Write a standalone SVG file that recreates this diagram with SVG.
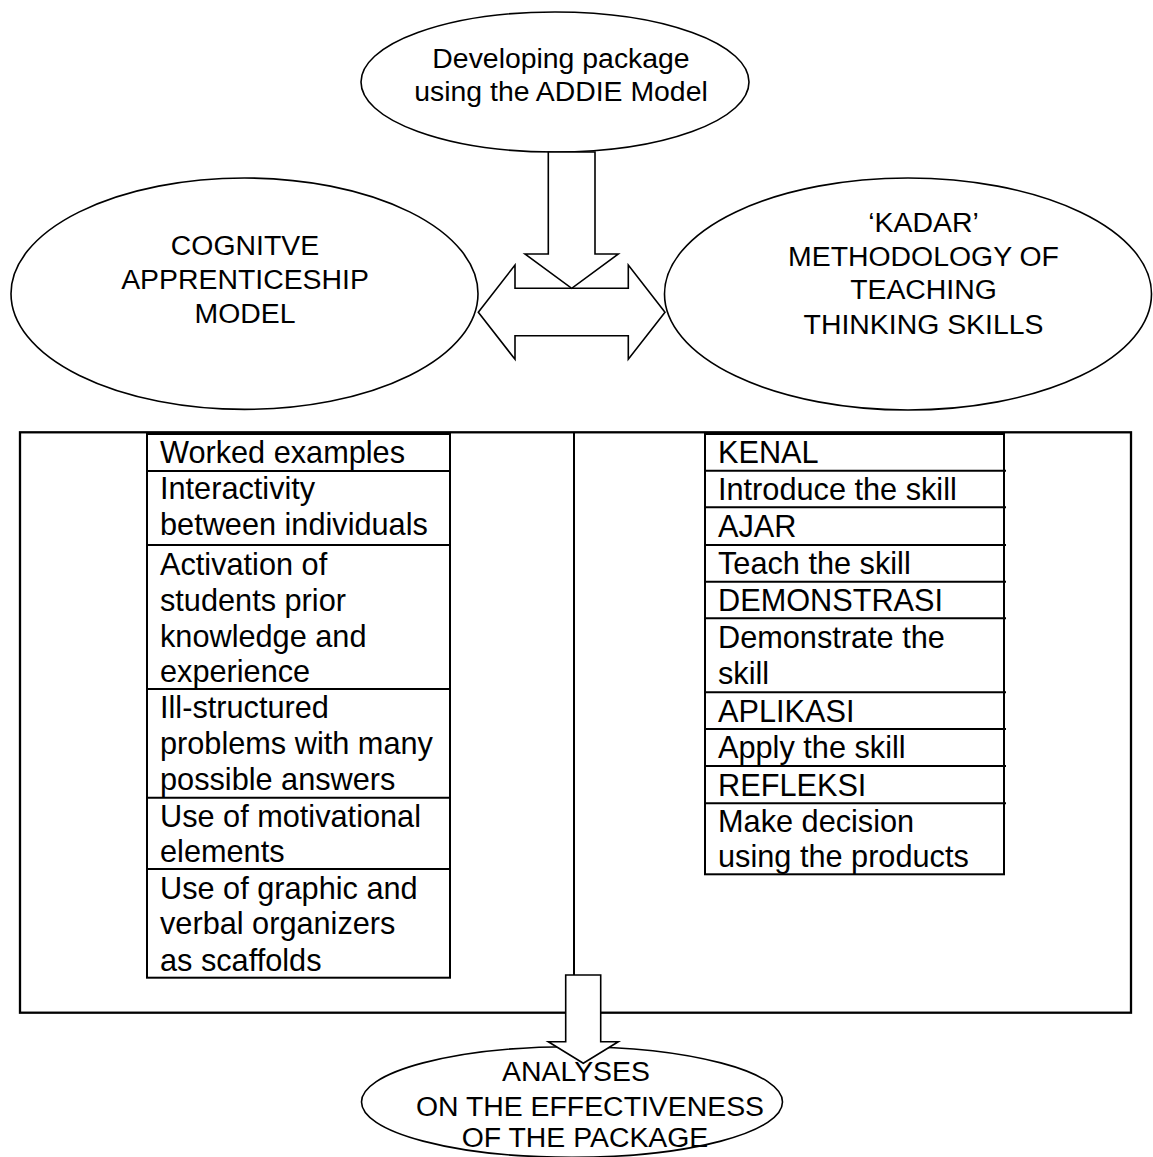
<svg xmlns="http://www.w3.org/2000/svg" width="1153" height="1157" viewBox="0 0 1153 1157">
<style>
  text { font-family: "Liberation Sans", Arial, sans-serif; fill: #000; }
  .el { fill: #fff; stroke: #000; stroke-width: 1.6; }
  .et { font-size: 28.4px; text-anchor: middle; }
  .bt { font-size: 30.7px; }
  .box { fill: #fff; stroke: #000; stroke-width: 2; }
  .sep { stroke: #000; stroke-width: 2; fill: none; }
  .frame { fill: none; stroke: #000; stroke-width: 2.3; }
  .arrow { fill: #fff; stroke: #000; stroke-width: 1.6; stroke-linejoin: miter; }
</style>
<rect width="1153" height="1157" fill="#fff"/>

<g id="frame">
  <rect class="frame" x="20" y="432.3" width="1111" height="580.4"/>
  <line class="sep" x1="574" y1="432.3" x2="574" y2="975"/>
</g>

<g id="node-cognitive">
  <ellipse class="el" cx="244.5" cy="293.7" rx="233.5" ry="115.7"/>
  <text class="et" x="245" y="255">COGNITVE</text>
  <text class="et" x="245" y="288.5">APPRENTICESHIP</text>
  <text class="et" x="245" y="323">MODEL</text>
</g>

<g id="node-kadar">
  <ellipse class="el" cx="908" cy="294" rx="243.5" ry="116"/>
  <text class="et" x="923.5" y="231.7">‘KADAR’</text>
  <text class="et" x="923.5" y="266">METHODOLOGY OF</text>
  <text class="et" x="923.5" y="298.5">TEACHING</text>
  <text class="et" x="923.5" y="334">THINKING SKILLS</text>
</g>

<g id="node-addie">
  <ellipse class="el" cx="555" cy="82" rx="194" ry="70"/>
  <text class="et" x="561" y="68">Developing package</text>
  <text class="et" x="561" y="101">using the ADDIE Model</text>
</g>

<g id="node-cognitive-list">
  <rect class="box" x="147" y="434" width="303" height="543.7"/>
  <line class="sep" x1="146" y1="471" x2="450" y2="471"/>
  <line class="sep" x1="146" y1="545" x2="450" y2="545"/>
  <line class="sep" x1="146" y1="689" x2="450" y2="689"/>
  <line class="sep" x1="146" y1="797.7" x2="450" y2="797.7"/>
  <line class="sep" x1="146" y1="869" x2="450" y2="869"/>
  <text class="bt" x="160" y="463.3">Worked examples</text>
  <text class="bt" x="160" y="499">Interactivity</text>
  <text class="bt" x="160" y="534.5">between individuals</text>
  <text class="bt" x="160" y="575">Activation of</text>
  <text class="bt" x="160" y="611">students prior</text>
  <text class="bt" x="160" y="646.5">knowledge and</text>
  <text class="bt" x="160" y="681.5">experience</text>
  <text class="bt" x="160" y="718.3">Ill-structured</text>
  <text class="bt" x="160" y="754">problems with many</text>
  <text class="bt" x="160" y="789.5">possible answers</text>
  <text class="bt" x="160" y="826.7">Use of motivational</text>
  <text class="bt" x="160" y="861.7">elements</text>
  <text class="bt" x="160" y="898.5">Use of graphic and</text>
  <text class="bt" x="160" y="934">verbal organizers</text>
  <text class="bt" x="160" y="970.5">as scaffolds</text>
</g>

<g id="node-kadar-list">
  <rect class="box" x="705" y="434" width="299" height="440.3"/>
  <line class="sep" x1="704" y1="470.7" x2="1006" y2="470.7"/>
  <line class="sep" x1="704" y1="507.3" x2="1006" y2="507.3"/>
  <line class="sep" x1="704" y1="545" x2="1006" y2="545"/>
  <line class="sep" x1="704" y1="581.7" x2="1006" y2="581.7"/>
  <line class="sep" x1="704" y1="618.3" x2="1006" y2="618.3"/>
  <line class="sep" x1="704" y1="692.3" x2="1006" y2="692.3"/>
  <line class="sep" x1="704" y1="729" x2="1006" y2="729"/>
  <line class="sep" x1="704" y1="766" x2="1006" y2="766"/>
  <line class="sep" x1="704" y1="803.3" x2="1006" y2="803.3"/>
  <text class="bt" x="718" y="463">KENAL</text>
  <text class="bt" x="718" y="500">Introduce the skill</text>
  <text class="bt" x="718" y="536.5">AJAR</text>
  <text class="bt" x="718" y="574">Teach the skill</text>
  <text class="bt" x="718" y="610.5">DEMONSTRASI</text>
  <text class="bt" x="718" y="647.5">Demonstrate the</text>
  <text class="bt" x="718" y="684">skill</text>
  <text class="bt" x="718" y="721.5">APLIKASI</text>
  <text class="bt" x="718" y="758.3">Apply the skill</text>
  <text class="bt" x="718" y="795.5">REFLEKSI</text>
  <text class="bt" x="718" y="831.7">Make decision</text>
  <text class="bt" x="718" y="866.7">using the products</text>
</g>

<g id="node-analyses">
  <ellipse class="el" cx="572" cy="1102" rx="210.5" ry="55.3"/>
</g>

<g id="connectors">
  <polygon class="arrow" points="478.3,312.3 515,265 515,288.3 628.3,288.3 628.3,265 665,312.3 628.3,359.3 628.3,335.7 515,335.7 515,359.3"/>
  <polygon class="arrow" points="548.3,152 595,152 595,254 618.3,254 571.7,288.3 525,254 548.3,254"/>
  <polygon class="arrow" points="565.7,975 600.7,975 600.7,1041.7 618.3,1041.7 583.3,1063.3 548.3,1041.7 565.7,1041.7"/>
</g>

<g id="node-analyses-label">
  <text class="et" x="576" y="1080.7">ANALYSES</text>
  <text class="et" x="590" y="1115.7">ON THE EFFECTIVENESS</text>
  <text class="et" x="585" y="1146.7">OF THE PACKAGE</text>
</g>
</svg>
